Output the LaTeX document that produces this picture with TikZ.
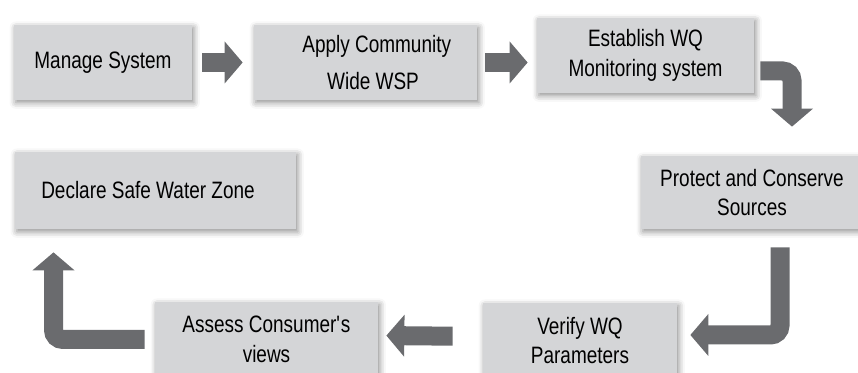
\documentclass[tikz,border=0pt]{standalone}
\usepackage{fontspec}
\setmainfont{Liberation Sans}[FakeStretch=0.8]
\usepackage{xcolor}
\usetikzlibrary{arrows.meta, shadows.blur}

\definecolor{boxgray}{HTML}{D4D5D7}
\definecolor{arrgray}{HTML}{6A6B6E}

\begin{document}
\begin{tikzpicture}[
  stage/.style={rectangle, fill=boxgray, minimum height=1.5cm, inner sep=2pt, align=center,
    text=black, font=\fontsize{13.5}{17}\selectfont,
    blur shadow={shadow xshift=1pt, shadow yshift=-1.5pt, shadow blur radius=3.5pt, shadow opacity=45}},
  flow/.style={-{Triangle[width=0.82cm, length=0.36cm]}, line width=0.38cm, draw=arrgray,
    rounded corners=0.19cm}
]
\useasboundingbox (0, 0) rectangle (17.16, 7.46);

% --- Top row ---
\node[stage, minimum width=3.56cm] (manage) at (2.06, 6.21) {Manage System};
\node[stage, minimum width=4.46cm, font=\fontsize{13.5}{21}\selectfont] (apply) at (7.31, 6.21) {\hspace*{0.45cm}Apply Community\\\hspace*{0.3cm}Wide WSP};
\node[stage, minimum width=4.34cm] (establish) at (12.91, 6.35) {Establish WQ\\Monitoring system};

% --- Middle row ---
\node[stage, minimum width=5.62cm, minimum height=1.54cm] (declare) at (3.11, 3.65) {Declare Safe Water Zone\hspace*{0.3cm}};
\node[stage, minimum width=4.44cm, minimum height=1.46cm] (protect) at (15.04, 3.61) {Protect and Conserve\\Sources};

% --- Bottom row ---
\node[stage, minimum width=3.88cm] (verify) at (11.6, 0.65) {Verify WQ\\Parameters};
\node[stage, minimum width=4.46cm] (assess) at (5.33, 0.67) {Assess Consumer\textquotesingle s\\views};

% --- Block arrows round the cycle ---
\draw[flow, shorten <=0.2cm, shorten >=0.22cm] (manage) -- (apply);
\draw[flow, shorten <=0.16cm, shorten >=0.18cm] (apply.east) -- (apply.east -| establish.west);
\draw[flow] ([xshift=0.12cm, yshift=-0.31cm]establish.east) -| ([xshift=0.8cm, yshift=0.58cm]protect.north);
\draw[flow] ([xshift=0.56cm, yshift=-0.36cm]protect.south) |- ([xshift=0.26cm, yshift=0.11cm]verify.east);
\draw[flow, shorten <=0.6cm, shorten >=0.16cm] ([yshift=0.08cm]verify.west) -- ([yshift=0.08cm]assess.east);
\draw[flow] ([xshift=-0.2cm]assess.west) -| ([xshift=-2.04cm, yshift=-0.46cm]declare.south);

\end{tikzpicture}
\end{document}
